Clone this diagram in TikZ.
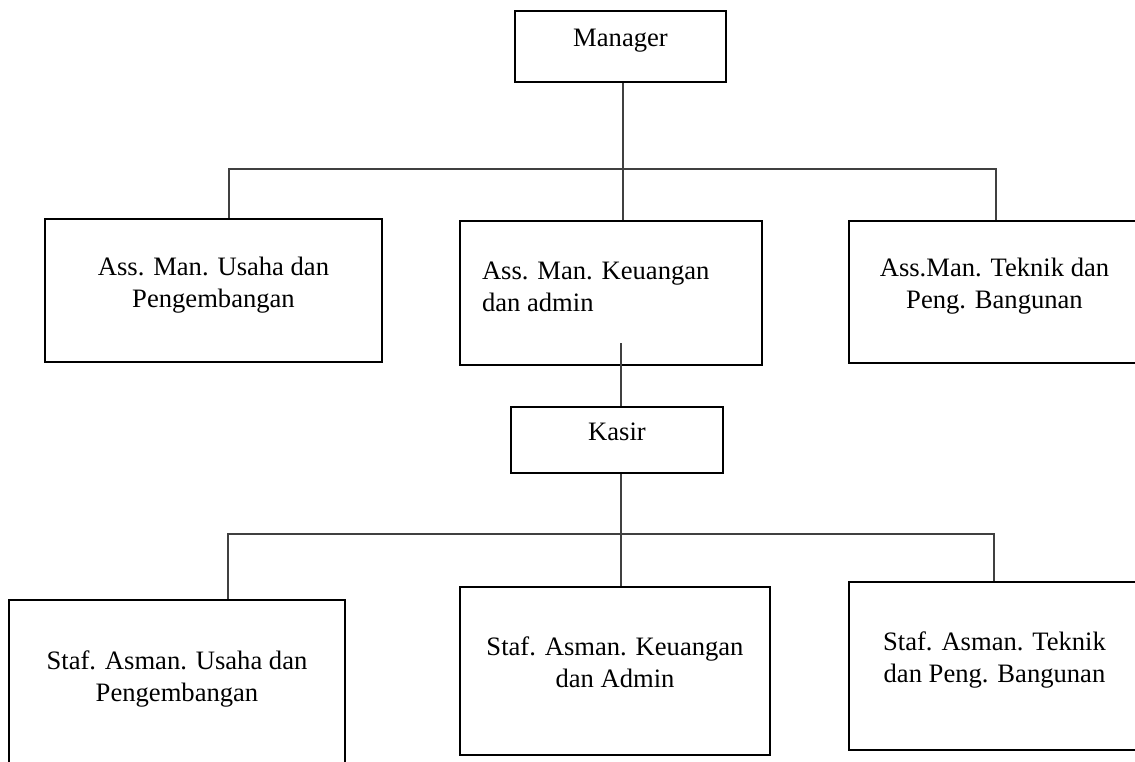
\documentclass[tikz,border=0pt]{standalone}
\usepackage{fontspec}
\setmainfont{Liberation Serif}
\usetikzlibrary{calc}

\begin{document}
\begin{tikzpicture}[x=1pt,y=-1pt,
  post/.style={draw=black,line width=2.4pt,align=center,inner sep=0pt,text depth=17pt,
    font=\fontsize{26.6}{32}\selectfont},
  link/.style={draw=black!75,line width=1.3pt}]
  %%%%% START %%%%%
  \useasboundingbox (0,0) rectangle (1135,762);

  % jabatan atas
  \node[post,minimum width=211,minimum height=71] (manager) at (620.5,46.5) {Manager};

  \node[post,minimum width=337,minimum height=143] (asusaha) at (213.5,290.5)
    {Ass. Man. Usaha dan\\Pengembangan};
  \node[post,align=flush left,text width=258,inner xsep=22pt,text depth=45pt,minimum height=144] (askeu) at (611,293)
    {Ass. Man. Keuangan\\dan admin};
  \node[post,minimum width=291,minimum height=142] (asteknik) at (994.5,292)
    {Ass.Man. Teknik dan\\Peng. Bangunan};

  \node[post,minimum width=212,minimum height=66] (kasir) at (617,440) {Kasir};

  % staf
  \node[post,minimum width=336,minimum height=170] (stusaha) at (177,685)
    {Staf. Asman. Usaha dan\\Pengembangan};
  \node[post,minimum width=310,minimum height=168] (stkeu) at (615,671)
    {Staf. Asman. Keuangan\\dan Admin};
  \node[post,minimum width=291,minimum height=168] (stteknik) at (994.5,666)
    {Staf. Asman. Teknik\\dan Peng. Bangunan};

  % garis
  \coordinate (bus1) at (623,169);
  \coordinate (bus1l) at (229,169);
  \coordinate (bus1r) at (996,169);
  \draw[link] (manager.south -| bus1) -- (bus1);
  \draw[link] (bus1l |- asusaha.north) -- (bus1l) -- (bus1r) -- (bus1r |- asteknik.north);
  \draw[link] (bus1) -- (bus1 |- askeu.north);

  \coordinate (kin) at (621,343);
  \draw[link] (kin) -- (kin |- kasir.north);

  \coordinate (bus2) at (621,534);
  \coordinate (bus2l) at (228,534);
  \coordinate (bus2r) at (994,534);
  \draw[link] (bus2 |- kasir.south) -- (bus2);
  \draw[link] (bus2l |- stusaha.north) -- (bus2l) -- (bus2r) -- (bus2r |- stteknik.north);
  \draw[link] (bus2) -- (bus2 |- stkeu.north);
  %%%%% END %%%%%
\end{tikzpicture}
\end{document}
